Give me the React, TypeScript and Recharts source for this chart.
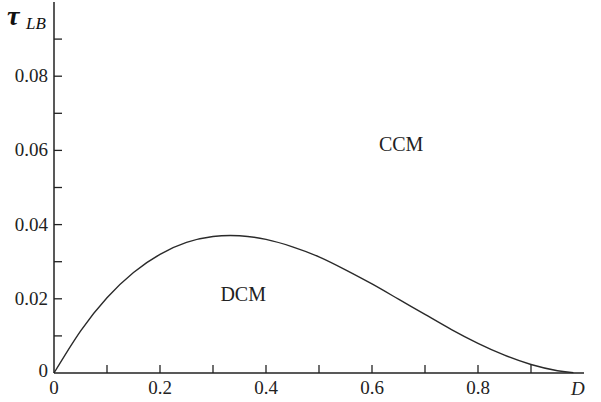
import { LineChart, Line, XAxis, YAxis, ReferenceDot } from 'recharts';

const dutyRatio = [0, 0.05, 0.1, 0.15, 0.2, 0.25, 0.3, 0.35, 0.4, 0.45, 0.5, 0.55, 0.6, 0.65, 0.7, 0.75, 0.8, 0.85, 0.9, 0.95, 0.98];
const tauBoundary = [0, 0.0113, 0.0203, 0.0271, 0.032, 0.0352, 0.0368, 0.037, 0.036, 0.034, 0.0313, 0.0278, 0.024, 0.0199, 0.0158, 0.0117, 0.008, 0.0048, 0.0023, 0.0006, 0.0001];

const xTicks = [0, 0.1, 0.2, 0.3, 0.4, 0.5, 0.6, 0.7, 0.8, 0.9];
const xLabels = ['0', '', '0.2', '', '0.4', '', '0.6', '', '0.8', ''];
const yTicks = [0, 0.01, 0.02, 0.03, 0.04, 0.05, 0.06, 0.07, 0.08, 0.09];
const yLabels = ['0', '', '0.02', '', '0.04', '', '0.06', '', '0.08', ''];

const data = dutyRatio.map((d, i) => ({ d, tau: tauBoundary[i] }));

const font = '"Liberation Serif", "Times New Roman", serif';

const XTick = (props: any) => {
  const { x, y, payload, index } = props;
  const label = xLabels[index] ?? '';
  return (
    <g>
      {payload.value > 0 && <line x1={x} y1={y} x2={x} y2={y - 8} stroke="#222" strokeWidth={1.3} />}
      {label && (
        <text x={x} y={y + 21} textAnchor="middle" fontFamily={font} fontSize={19} fill="#222">
          {label}
        </text>
      )}
    </g>
  );
};

const YTick = (props: any) => {
  const { x, y, payload, index } = props;
  const label = yLabels[index] ?? '';
  return (
    <g>
      {payload.value > 0 && <line x1={x} y1={y} x2={x + 8} y2={y} stroke="#222" strokeWidth={1.3} />}
      {label && (
        <text x={x - 6} y={payload.value === 0 ? y + 4 : y + 6} textAnchor="end" fontFamily={font} fontSize={19} fill="#222">
          {label}
        </text>
      )}
    </g>
  );
};

const regionLabel = (text: string) => (props: any) => {
  const { viewBox } = props;
  return (
    <text x={viewBox.x} y={viewBox.y + 7} textAnchor="middle" fontFamily={font} fontSize={20} fill="#222">
      {text}
    </text>
  );
};

export default function App() {
  return (
    <div style={{ position: 'absolute', left: 0, top: 0, width: 601, height: 402, background: '#fff' }}>
      <LineChart width={601} height={402} data={data} margin={{ top: 2, right: 17, left: 0, bottom: 0 }}>
        <XAxis
          dataKey="d"
          type="number"
          domain={[0, 1]}
          ticks={xTicks}
          interval={0}
          height={29}
          tickSize={0}
          tickMargin={0}
          tickLine={false}
          axisLine={{ stroke: '#222', strokeWidth: 1.5 }}
          tick={<XTick />}
        />
        <YAxis
          type="number"
          domain={[0, 0.1]}
          ticks={yTicks}
          interval={0}
          width={54}
          tickSize={0}
          tickMargin={0}
          tickLine={false}
          axisLine={{ stroke: '#222', strokeWidth: 1.5 }}
          tick={<YTick />}
        />
        <Line
          type="natural"
          dataKey="tau"
          stroke="#2a2a2a"
          strokeWidth={1.4}
          dot={false}
          isAnimationActive={false}
        />
        <ReferenceDot x={0.357} y={0.0212} r={0} stroke="none" fill="none" label={regionLabel('DCM')} />
        <ReferenceDot x={0.655} y={0.0617} r={0} stroke="none" fill="none" label={regionLabel('CCM')} />
      </LineChart>
      <svg width={601} height={402} style={{ position: 'absolute', left: 0, top: 0, pointerEvents: 'none' }}>
        <text x={7} y={25} fontFamily={font} fontSize={28} fontWeight="bold" fontStyle="italic" fill="#111">
          τ
        </text>
        <text x={26} y={29} fontFamily={font} fontSize={17} fontStyle="italic" fill="#111">
          LB
        </text>
        <text x={571} y={395} fontFamily={font} fontSize={19} fontStyle="italic" fill="#222">
          D
        </text>
      </svg>
    </div>
  );
}
